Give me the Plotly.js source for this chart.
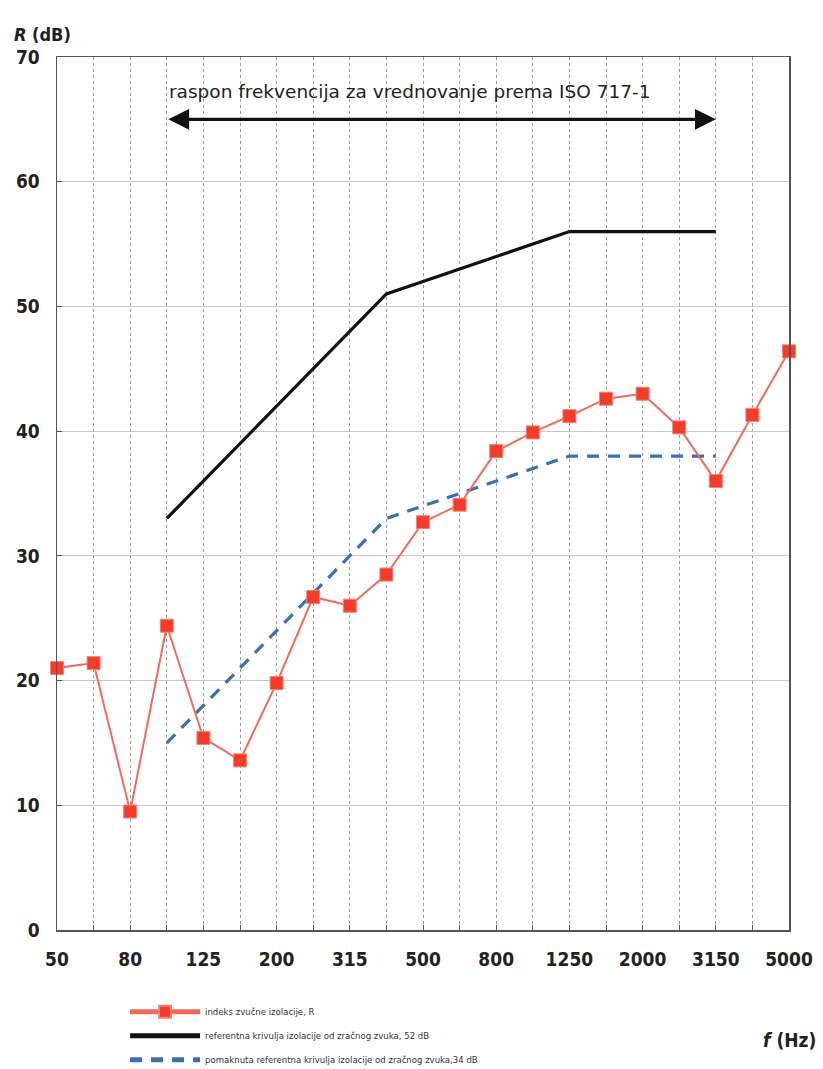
<!DOCTYPE html>
<html>
<head>
<meta charset="utf-8">
<script src="https://cdn.plot.ly/plotly-3.0.1.min.js"></script>
<style>html,body{margin:0;padding:0;background:#fff;}#chart{width:823px;height:1069px;}</style>
</head>
<body>
<div id="chart"></div>
<script>
// Third-octave band centre frequencies (Hz)
const freqs = ['50','63','80','100','125','160','200','250','315','400','500','630','800','1000','1250','1600','2000','2500','3150','4000','5000'];
// Labels printed under the axis
const shownLabels = ['50','80','125','200','315','500','800','1250','2000','3150','5000'];
// Measured sound reduction index R (dB)
const measuredR = [21.0,21.4,9.5,24.4,15.4,13.6,19.8,26.7,26.0,28.5,32.7,34.1,38.4,39.9,41.2,42.6,43.0,40.3,36.0,41.3,46.4];
// ISO 717-1 reference curve range
const refFreqs = ['100','125','160','200','250','315','400','500','630','800','1000','1250','1600','2000','2500','3150'];
const ref52 = [33,36,39,42,45,48,51,52,53,54,55,56,56,56,56,56];
const ref34 = [15,18,21,24,27,30,33,34,35,36,37,38,38,38,38,38];

const names = ['indeks zvučne izolacije, R','referentna krivulja izolacije od zračnog zvuka, 52 dB','pomaknuta referentna krivulja izolacije od zračnog zvuka,34 dB'];

const traceR = {x: freqs, y: measuredR, type:'scatter', mode:'lines+markers', name:names[0], legendgroup:'a', legendrank:1,
   line:{color:'#f06a5c', width:2}, marker:{symbol:'square', size:13, color:'#f23c2c', line:{color:'#f7806f', width:1}}, cliponaxis:false};
const trace52 = {x: refFreqs, y: ref52, type:'scatter', mode:'lines', name:names[1], legendgroup:'b', legendrank:2,
   line:{color:'#111111', width:3.2}};
const trace34 = {x: refFreqs, y: ref34, type:'scatter', mode:'lines', name:names[2], legendgroup:'c', legendrank:3,
   line:{color:'#3a6fb0', width:3.2, dash:'12px,9px'}};
const data = [trace52, trace34, traceR];

const tickText = freqs.map(f => shownLabels.includes(f) ? f : '');
const tickFont = {family:'DejaVu Sans Condensed, DejaVu Sans, sans-serif', size:19, color:'#222', weight:600};

const layout = {
  width:823, height:1069,
  margin:{l:57, r:34, t:57, b:139, autoexpand:false},
  paper_bgcolor:'#fff', plot_bgcolor:'#fff',
  showlegend:true,
  legend:{orientation:'v', x:0.093, y:-0.077, xanchor:'left', yanchor:'top', traceorder:'grouped', tracegroupgap:5,
          itemsizing:'constant',
          font:{family:'Liberation Sans Narrow, DejaVu Sans Condensed, sans-serif', size:9.5, color:'#333'}, itemwidth:70},
  xaxis:{type:'category', categoryorder:'array', categoryarray:freqs, range:[0,20], tickmode:'array', tickvals:freqs, ticktext:tickText,
         showgrid:true, gridcolor:'#9a9a9a', gridwidth:1, griddash:'dot',
         ticks:'inside', ticklen:5, tickcolor:'#555', ticklabelstandoff:12,
         showline:true, linecolor:'#555', linewidth:1.5, mirror:true,
         tickfont:tickFont, zeroline:false, fixedrange:true},
  yaxis:{range:[0,70], dtick:10, tick0:0, showgrid:true, gridcolor:'#c8c8c8', gridwidth:1,
         ticks:'inside', ticklen:5, tickcolor:'#555', ticklabelstandoff:12,
         showline:true, linecolor:'#555', linewidth:1.5, mirror:true,
         tickfont:tickFont, zeroline:false, fixedrange:true},
  annotations:[
    {xref:'paper', yref:'paper', x:-0.062, y:1.012, xanchor:'left', yanchor:'bottom', showarrow:false,
     text:'<i>R</i> (dB)', font:{family:'DejaVu Sans Condensed, DejaVu Sans, sans-serif', size:18, color:'#222', weight:600}},
    {xref:'paper', yref:'paper', x:1.0, y:-0.126, xanchor:'center', yanchor:'middle', showarrow:false,
     text:'<i>f</i> (Hz)', font:{family:'DejaVu Sans Condensed, DejaVu Sans, sans-serif', size:19, color:'#222', weight:600}},
    {xref:'x', yref:'y', x:freqs.indexOf('100'), y:67.2, xanchor:'left', yanchor:'middle', showarrow:false,
     text:'raspon frekvencija za vrednovanje prema ISO 717-1', font:{family:'DejaVu Sans, sans-serif', size:18.5, color:'#222'}},
    {xref:'x', yref:'y', axref:'x', ayref:'y', x:freqs.indexOf('3150'), y:65, ax:freqs.indexOf('100'), ay:65,
     text:'', showarrow:true, arrowside:'end+start', arrowhead:2, arrowsize:1.3, arrowwidth:3.2, arrowcolor:'#111', standoff:0, startstandoff:0}
  ]
};

Plotly.newPlot('chart', data, layout, {displayModeBar:false, staticPlot:true});
</script>
</body>
</html>
